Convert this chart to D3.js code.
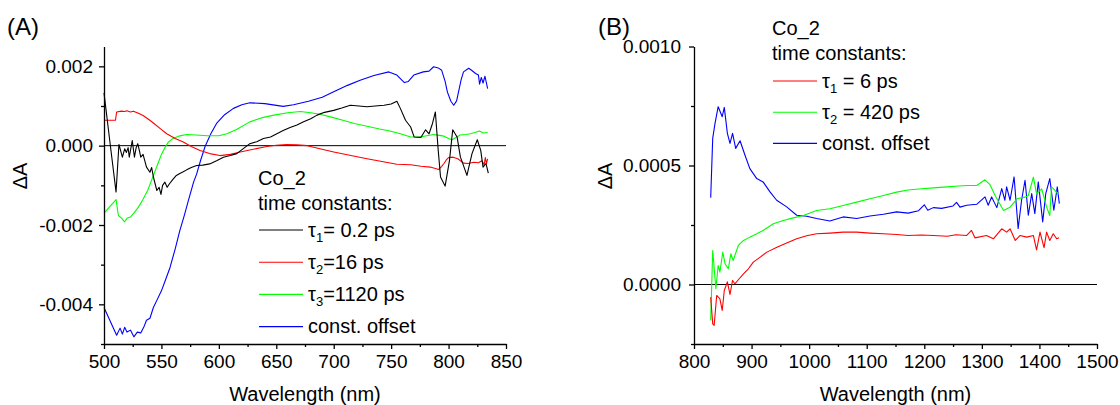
<!DOCTYPE html>
<html>
<head>
<meta charset="utf-8">
<script src="https://cdn.jsdelivr.net/npm/d3@7"></script>
<style>
  html, body { margin: 0; padding: 0; background: #fff; }
  svg { display: block; }
  text { font-family: "Liberation Sans", Arial, sans-serif; fill: #000; }
</style>
</head>
<body>
<svg id="chart" width="1120" height="405"></svg>
<script>
// ---------------- Panel A data (wavelength nm, ΔA) ----------------
const aTau1 = [[500,1.33e-3],[505,0.13e-3],[510.5,-1.17e-3],[513,0.03e-3],[516,-0.29e-3],[518,-0.08e-3],[519.5,-0.17e-3],[521,-0.05e-3],[522,-0.29e-3],[524.6,0.13e-3],[526.5,-0.29e-3],[528,-0.05e-3],[529.4,0.05e-3],[531,-0.15e-3],[532,-0.29e-3],[534,-0.22e-3],[537,-0.54e-3],[540,-0.67e-3],[541.5,-0.55e-3],[543,-0.79e-3],[546,-1.13e-3],[548,-1.05e-3],[549.6,-1.23e-3],[551,-1.0e-3],[553,-0.92e-3],[555,-1.05e-3],[557,-0.96e-3],[560,-0.85e-3],[563,-0.75e-3],[566,-0.70e-3],[569,-0.66e-3],[572,-0.61e-3],[576,-0.55e-3],[580.7,-0.50e-3],[586,-0.49e-3],[592,-0.46e-3],[598,-0.38e-3],[604,-0.29e-3],[610,-0.25e-3],[615.6,-0.20e-3],[621,-0.08e-3],[627,0.05e-3],[633,0.10e-3],[638.8,0.18e-3],[645,0.22e-3],[650.5,0.30e-3],[656,0.38e-3],[662,0.46e-3],[668,0.52e-3],[673.8,0.60e-3],[680,0.68e-3],[685.5,0.77e-3],[692,0.84e-3],[700,0.89e-3],[707,0.95e-3],[714.5,1.02e-3],[722,1.00e-3],[729,0.98e-3],[736,1.00e-3],[743.8,1.02e-3],[750,1.05e-3],[755,1.12e-3],[758,0.94e-3],[762.5,0.64e-3],[767,0.47e-3],[770,0.22e-3],[776,0.21e-3],[780,0.40e-3],[783,0.30e-3],[786,0.56e-3],[788.5,0.85e-3],[791,-0.12e-3],[793,-0.79e-3],[797,-1.02e-3],[800.8,-0.37e-3],[803.6,0.40e-3],[807.4,0.22e-3],[810.3,-0.29e-3],[812,-0.42e-3],[816,-0.75e-3],[820.4,-0.20e-3],[825,0.15e-3],[828,-0.12e-3],[830,-0.54e-3],[832.6,-0.45e-3],[834.6,-0.69e-3]];
const aTau2 = [[500,0.64e-3],[510,0.64e-3],[511,0.85e-3],[515,0.87e-3],[518,0.86e-3],[520,0.88e-3],[523,0.85e-3],[525.6,0.87e-3],[530,0.82e-3],[534,0.76e-3],[539,0.66e-3],[543,0.57e-3],[549,0.43e-3],[554.6,0.30e-3],[562,0.18e-3],[569,0.09e-3],[576,-0.02e-3],[583.6,-0.12e-3],[592,-0.20e-3],[601,-0.25e-3],[610,-0.22e-3],[618.6,-0.16e-3],[630,-0.09e-3],[641.8,-0.02e-3],[650,0.01e-3],[659,0.03e-3],[668,0.02e-3],[677,0.0e-3],[688,-0.08e-3],[700,-0.16e-3],[715,-0.25e-3],[729,-0.33e-3],[742,-0.40e-3],[755,-0.47e-3],[767,-0.48e-3],[776,-0.52e-3],[784,-0.54e-3],[791.5,-0.60e-3],[794,-0.52e-3],[796,-0.45e-3],[798,-0.36e-3],[800,-0.30e-3],[804,-0.29e-3],[808,-0.33e-3],[813,-0.44e-3],[817,-0.45e-3],[822,-0.42e-3],[826,-0.43e-3],[829,-0.38e-3],[831,-0.48e-3],[832,-0.30e-3],[833,-0.45e-3],[834,-0.33e-3]];
const aTau3 = [[500,-1.70e-3],[510.5,-1.36e-3],[512.5,-1.76e-3],[515,-1.82e-3],[518,-1.92e-3],[520,-1.83e-3],[523,-1.80e-3],[526,-1.70e-3],[530,-1.55e-3],[534,-1.35e-3],[538,-1.13e-3],[543,-0.75e-3],[547,-0.45e-3],[550,-0.22e-3],[553,-0.05e-3],[556,0.09e-3],[560,0.18e-3],[565,0.24e-3],[572,0.28e-3],[580,0.27e-3],[590,0.25e-3],[600,0.25e-3],[607,0.30e-3],[615,0.40e-3],[627,0.60e-3],[637,0.70e-3],[648,0.77e-3],[660,0.83e-3],[671,0.86e-3],[680,0.83e-3],[688,0.79e-3],[698,0.72e-3],[708,0.64e-3],[718,0.56e-3],[729,0.49e-3],[740,0.42e-3],[749,0.37e-3],[758,0.30e-3],[767,0.22e-3],[775,0.22e-3],[781,0.25e-3],[787,0.28e-3],[792,0.26e-3],[796,0.24e-3],[800,0.18e-3],[803,0.15e-3],[806,0.20e-3],[810,0.27e-3],[815,0.28e-3],[819,0.30e-3],[823,0.33e-3],[827,0.37e-3],[830,0.32e-3],[834,0.33e-3]];
const aOffset = [[500,-4.08e-3],[511,-4.78e-3],[514,-4.60e-3],[516,-4.75e-3],[518,-4.58e-3],[520,-4.70e-3],[523,-4.65e-3],[526,-4.82e-3],[529,-4.70e-3],[532,-4.72e-3],[535,-4.55e-3],[537,-4.40e-3],[540,-4.35e-3],[543,-4.08e-3],[546,-3.90e-3],[550,-3.66e-3],[554,-3.35e-3],[557.5,-3.07e-3],[562,-2.60e-3],[566,-2.14e-3],[570,-1.75e-3],[573.5,-1.38e-3],[578,-0.92e-3],[580.7,-0.71e-3],[584,-0.38e-3],[588,-0.02e-3],[593,0.30e-3],[598,0.56e-3],[605,0.78e-3],[612.7,0.94e-3],[620,1.03e-3],[627,1.08e-3],[640,1.06e-3],[656,0.99e-3],[665,1.03e-3],[678,1.12e-3],[690,1.22e-3],[700,1.36e-3],[712,1.52e-3],[723,1.65e-3],[735,1.77e-3],[748,1.86e-3],[755,1.78e-3],[761.5,1.59e-3],[765,1.62e-3],[769.7,1.78e-3],[778,1.86e-3],[783,1.88e-3],[787,1.99e-3],[791,1.96e-3],[794,1.90e-3],[797,1.62e-3],[799,1.35e-3],[802,1.12e-3],[804.5,1.02e-3],[807,1.13e-3],[809,1.40e-3],[811,1.67e-3],[813,1.86e-3],[817.5,1.95e-3],[820,1.90e-3],[823.5,1.82e-3],[826,1.78e-3],[827,1.55e-3],[828.5,1.72e-3],[830,1.58e-3],[831.7,1.75e-3],[834,1.44e-3]];

// ---------------- Panel B data ----------------
const bTau1 = [[829,-0.53e-4],[832.5,-1.65e-4],[835,-1.72e-4],[839.4,-0.46e-4],[845,-0.60e-4],[849,-1.09e-4],[852.6,-0.25e-4],[858,0.11e-4],[862.5,-0.42e-4],[867,0.17e-4],[871,0.03e-4],[877,0.20e-4],[886,0.45e-4],[894.5,0.66e-4],[903,0.94e-4],[915,1.15e-4],[926.5,1.36e-4],[944,1.57e-4],[961,1.74e-4],[978.4,1.92e-4],[995.7,2.05e-4],[1013,2.13e-4],[1036,2.16e-4],[1059,2.20e-4],[1082.6,2.20e-4],[1105.7,2.16e-4],[1129,2.13e-4],[1152,2.10e-4],[1172,2.06e-4],[1195,2.08e-4],[1215.7,2.06e-4],[1240,2.03e-4],[1255,2.09e-4],[1273.7,2.06e-4],[1282,2.27e-4],[1288,1.96e-4],[1308,2.06e-4],[1320,1.92e-4],[1334.5,2.34e-4],[1343,2.20e-4],[1349,2.34e-4],[1358,1.85e-4],[1366.5,2.06e-4],[1378,1.99e-4],[1389.5,2.06e-4],[1395,1.45e-4],[1401,2.20e-4],[1408,1.55e-4],[1412.5,2.20e-4],[1418,1.85e-4],[1424,2.13e-4],[1430,1.92e-4],[1434,1.96e-4]];
const bTau2 = [[829,-1.51e-4],[832.5,1.43e-4],[838,-0.18e-4],[842,0.80e-4],[845,0.52e-4],[850,1.36e-4],[854,0.87e-4],[859.6,0.66e-4],[864,1.29e-4],[868,1.01e-4],[877,1.64e-4],[886,1.85e-4],[897,1.99e-4],[909,2.13e-4],[920,2.27e-4],[937.8,2.55e-4],[955,2.69e-4],[972.5,2.80e-4],[990,2.90e-4],[1013,3.11e-4],[1036,3.18e-4],[1059,3.32e-4],[1082.6,3.46e-4],[1105.7,3.60e-4],[1129,3.74e-4],[1152,3.88e-4],[1172,3.97e-4],[1195,4.02e-4],[1215.7,4.06e-4],[1240,4.10e-4],[1260,4.14e-4],[1273.7,4.16e-4],[1291,4.16e-4],[1305.5,4.40e-4],[1314,4.20e-4],[1323,3.74e-4],[1337.6,3.11e-4],[1349,3.25e-4],[1361,3.60e-4],[1375,3.67e-4],[1380.7,3.74e-4],[1389.5,4.51e-4],[1395,3.81e-4],[1404,4.02e-4],[1412.5,3.25e-4],[1418,2.90e-4],[1421,4.10e-4],[1427,3.95e-4],[1433,3.81e-4]];
const bOffset = [[829,3.65e-4],[832.5,6.14e-4],[836.5,6.77e-4],[842,7.47e-4],[849,7.05e-4],[852.6,7.44e-4],[858,6.35e-4],[862.5,5.93e-4],[867,6.35e-4],[872.4,5.72e-4],[880,6.04e-4],[888.6,5.43e-4],[897,4.87e-4],[909,4.45e-4],[920,4.31e-4],[932,3.89e-4],[943.6,3.54e-4],[961,3.26e-4],[978.4,2.91e-4],[995.7,2.87e-4],[1013,2.77e-4],[1036,2.67e-4],[1059,2.84e-4],[1082.6,2.77e-4],[1105.7,2.88e-4],[1129,2.95e-4],[1152,3.05e-4],[1172,3.00e-4],[1190,3.10e-4],[1200,3.35e-4],[1206,3.12e-4],[1215.7,3.23e-4],[1230,3.20e-4],[1250,3.30e-4],[1256,3.45e-4],[1262,3.25e-4],[1273.7,3.33e-4],[1291,3.37e-4],[1305.5,3.68e-4],[1311,3.33e-4],[1317,3.68e-4],[1326,3.23e-4],[1334.5,4.03e-4],[1340,3.54e-4],[1343,4.10e-4],[1349,3.54e-4],[1356,4.52e-4],[1363,2.35e-4],[1369,3.54e-4],[1375,4.38e-4],[1380.7,2.91e-4],[1386.6,3.82e-4],[1392,2.98e-4],[1398,4.31e-4],[1405.7,2.63e-4],[1411,3.82e-4],[1418,4.45e-4],[1425,3.12e-4],[1431,4.10e-4],[1434.6,3.40e-4]];

// ---------------- Axis ticks / labels ----------------
const aXTicks = [500,550,600,650,700,750,800,850];
const aXMinor = [525,575,625,675,725,775,825];
const aYTicks = [-0.004,-0.002,0,0.002];
const aYTickLabels = ["-0.004","-0.002","0.000","0.002"];
const aYMinor = [-0.005,-0.003,-0.001,0.001];
const bXTicks = [800,900,1000,1100,1200,1300,1400,1500];
const bXMinor = [850,950,1050,1150,1250,1350,1450];
const bYTicks = [0,0.0005,0.001];
const bYTickLabels = ["0.0000","0.0005","0.0010"];
const bYMinor = [-0.00025,0.00025,0.00075];

const aLegend = [
  {sym:"τ", sub:"1", rest:"= 0.2 ps", color:"#000000", data:aTau1},
  {sym:"τ", sub:"2", rest:"=16 ps", color:"#ff0000", data:aTau2},
  {sym:"τ", sub:"3", rest:"=1120 ps", color:"#00ff00", data:aTau3},
  {sym:"", sub:"", rest:"const. offset", color:"#0000ff", data:aOffset}
];
const bLegend = [
  {sym:"τ", sub:"1", rest:" = 6 ps", color:"#ff0000", data:bTau1},
  {sym:"τ", sub:"2", rest:" = 420 ps", color:"#00ff00", data:bTau2},
  {sym:"", sub:"", rest:"const. offset", color:"#0000ff", data:bOffset}
];

const svg = d3.select("#chart");
const FONT_TICK = 19, FONT_TITLE = 20, FONT_PANEL = 24;

function panel(cfg) {
  const x = d3.scaleLinear().domain(cfg.xDomain).range(cfg.xRange);
  const y = d3.scaleLinear().domain(cfg.yDomain).range([344, 46.5]);
  const g = svg.append("g");

  // zero line
  g.append("line").attr("x1", x.range()[0]).attr("x2", x.range()[1])
    .attr("y1", y(0)).attr("y2", y(0)).attr("stroke", "#000").attr("stroke-width", 1);

  // series
  const line = d3.line().x(d => x(d[0])).y(d => y(d[1]));
  cfg.legend.slice().reverse().forEach(s => {
    g.append("path").datum(s.data).attr("d", line)
      .attr("fill", "none").attr("stroke", s.color).attr("stroke-width", 1.1)
      .attr("stroke-linejoin", "round");
  });

  // x axis
  const xa = g.append("g").attr("transform", `translate(0,344)`)
    .call(d3.axisBottom(x).tickValues(cfg.xTicks).tickSize(5).tickSizeOuter(0).tickPadding(6).tickFormat(d3.format("d")));
  const xm = g.append("g").attr("transform", `translate(0,344)`)
    .call(d3.axisBottom(x).tickValues(cfg.xMinor).tickSize(3).tickFormat(""));
  xm.select(".domain").remove();
  // y axis
  const ya = g.append("g").attr("transform", `translate(${x.range()[0]},0)`)
    .call(d3.axisLeft(y).tickValues(cfg.yTicks).tickSize(5).tickSizeOuter(0).tickPadding(cfg.yPad)
      .tickFormat((d, i) => cfg.yLabels[i]));
  const ym = g.append("g").attr("transform", `translate(${x.range()[0]},0)`)
    .call(d3.axisLeft(y).tickValues(cfg.yMinor).tickSize(3).tickFormat(""));
  ym.select(".domain").remove();
  [xa, xm, ya, ym].forEach(a => {
    a.selectAll("path,line").attr("stroke", "#000").attr("stroke-width", 1.3);
    a.selectAll("text").style("font-family", '"Liberation Sans", Arial, sans-serif')
      .style("font-size", FONT_TICK + "px").attr("fill", "#000");
  });

  // axis titles
  g.append("text").attr("x", (x.range()[0] + x.range()[1]) / 2).attr("y", 401)
    .attr("text-anchor", "middle").style("font-size", FONT_TITLE + "px").text("Wavelength (nm)");
  g.append("text").attr("transform", `translate(${cfg.yTitleX},176) rotate(-90)`)
    .attr("text-anchor", "middle").style("font-size", FONT_TITLE + "px").text("ΔA");
  // panel label
  g.append("text").attr("x", cfg.labelX).attr("y", 35).style("font-size", FONT_PANEL + "px").text(cfg.label);

  // legend
  const L = cfg.leg;
  g.append("text").attr("x", L.x).attr("y", L.y0).style("font-size", FONT_TITLE + "px").text("Co_2");
  g.append("text").attr("x", L.x).attr("y", L.y0 + L.gap1).style("font-size", FONT_TITLE + "px").text("time constants:");
  cfg.legend.forEach((s, i) => {
    const ly = L.lineY0 + i * L.step;
    g.append("line").attr("x1", L.x + 1).attr("x2", L.x + 45).attr("y1", ly).attr("y2", ly)
      .attr("stroke", s.color).attr("stroke-width", 1.1);
    const t = g.append("text").attr("x", L.x + 50).attr("y", ly + 6.7).style("font-size", FONT_TITLE + "px");
    if (s.sym) {
      t.append("tspan").text(s.sym);
      t.append("tspan").attr("dy", 5).style("font-size", "13px").text(s.sub);
      t.append("tspan").attr("dy", -5).text(s.rest);
    } else {
      t.append("tspan").text(s.rest);
    }
  });
}

panel({
  xDomain:[500,850], xRange:[104,506], yDomain:[-0.005,0.0025],
  xTicks:aXTicks, xMinor:aXMinor, yTicks:aYTicks, yLabels:aYTickLabels, yMinor:aYMinor, yPad:6,
  yTitleX:27, label:"(A)", labelX:7,
  legend:aLegend, leg:{x:258, y0:185, gap1:25, lineY0:230, step:32.2}
});
panel({
  xDomain:[800,1500], xRange:[694,1097], yDomain:[-0.00025,0.001],
  xTicks:bXTicks, xMinor:bXMinor, yTicks:bYTicks, yLabels:bYTickLabels, yMinor:bYMinor, yPad:8,
  yTitleX:612, label:"(B)", labelX:598,
  legend:bLegend, leg:{x:772, y0:35, gap1:25, lineY0:81, step:31.2}
});
</script>
</body>
</html>
